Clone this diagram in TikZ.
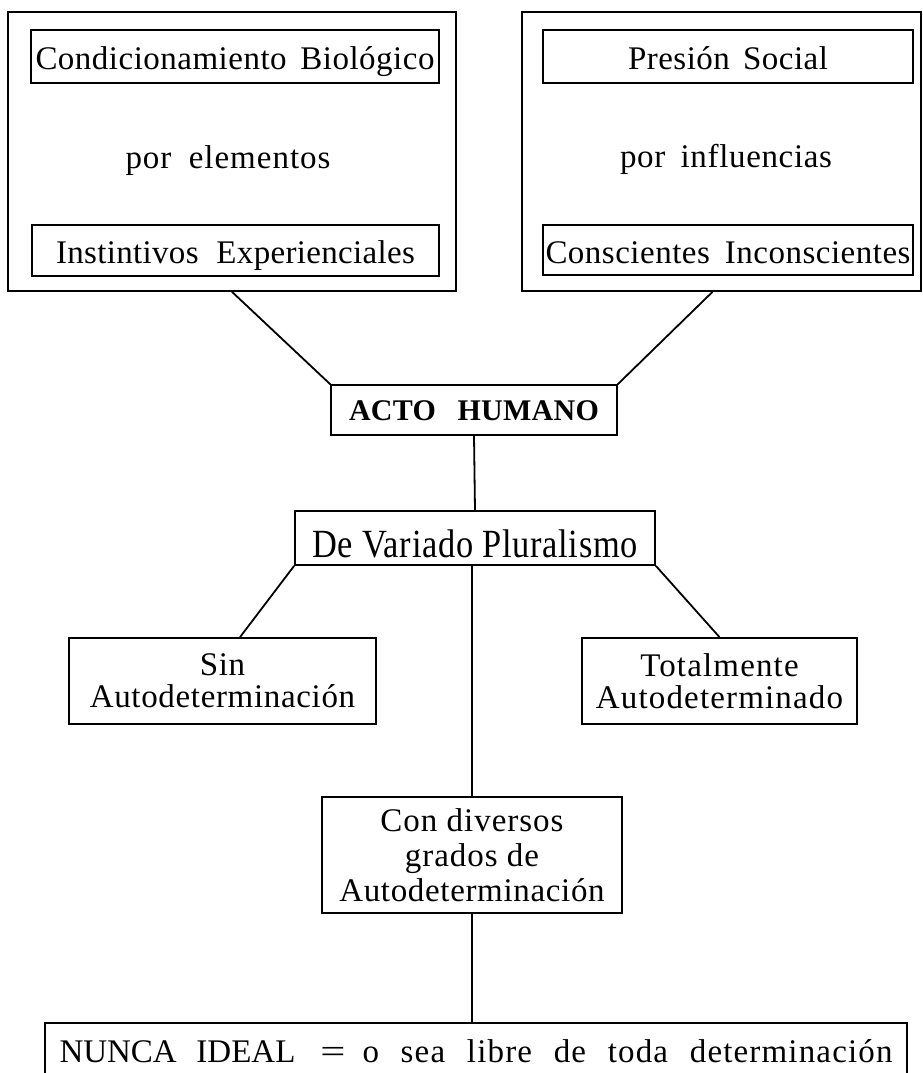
\documentclass[tikz,border=0pt]{standalone}
\usepackage{fontspec}
\setmainfont{Liberation Serif}[LetterSpace=2]
\newcommand{\spaced}[3]{{\addfontfeatures{LetterSpace=#1}\makebox[#2][s]{#3}}}
\newcommand{\lsp}[2]{{\addfontfeatures{LetterSpace=#1}#2}}
\begin{document}
\begin{tikzpicture}[x=1pt,y=-1pt,
  box/.style={draw, line width=1.7pt, rectangle, inner sep=0pt},
  txt/.style={font=\fontsize{33}{40}\selectfont},
  one/.style={txt, text height=26pt, text depth=0pt},
  conn/.style={line width=1.8pt}]
\useasboundingbox (0,0) rectangle (923,1073);
% outer boxes
\node[box, minimum width=448pt, minimum height=279pt] (outL) at (232,151.5) {};
\node[box, minimum width=399pt, minimum height=279pt] (outR) at (721.5,151.5) {};
% left group
\node[box, one, minimum width=408pt, minimum height=53pt] (cb) at (235,56.5)
  {\spaced{1.5}{399pt}{Condicionamiento Biológico}};
\node[txt, anchor=base] (pe) at (228,168) {\spaced{3}{205pt}{por elementos}};
\node[box, one, minimum width=407pt, minimum height=51pt] (ie) at (235.5,250.5)
  {\spaced{1}{359pt}{Instintivos Experienciales}\hspace{6pt}};
% right group
\node[box, one, minimum width=370pt, minimum height=53pt] (ps) at (728,56.5)
  {\spaced{1.5}{200pt}{Presión Social}};
\node[txt, anchor=base] (pi) at (726,167) {\spaced{2}{212pt}{por influencias}};
\node[box, one, minimum width=370pt, minimum height=50pt] (ci) at (728,250)
  {\spaced{1.5}{365pt}{Conscientes Inconscientes}};
% center
\node[box, font=\bfseries\fontsize{30}{34}\selectfont, text height=21pt, text depth=0pt,
  minimum width=286pt, minimum height=50pt] (acto) at (474,410)
  {\spaced{1}{250pt}{ACTO HUMANO}};
\node[box, text height=38pt, text depth=0pt, minimum width=360pt, minimum height=54pt] (dv) at (475,538)
  {\scalebox{0.86}[1]{\fontsize{40}{48}\selectfont De Variado Pluralismo}};
\node[box, txt, align=center, font=\fontsize{33}{32}\selectfont,
  minimum width=307pt, minimum height=86pt] (sin) at (222.5,681)
  {\lsp{2}{Sin}\\\lsp{2}{Autodeterminación}};
\node[box, txt, align=center, font=\fontsize{33}{32}\selectfont,
  minimum width=275pt, minimum height=86pt] (tot) at (719.5,681)
  {\lsp{3.5}{Totalmente}\\\lsp{3.5}{Autodeterminado}};
\node[box, txt, align=center, font=\fontsize{33}{35}\selectfont,
  minimum width=300pt, minimum height=116pt] (con) at (472,855)
  {\lsp{3}{Con diversos}\\\lsp{3}{grados de}\\\lsp{2}{Autodeterminación}};
\node[box, txt, text height=22pt, text depth=0pt,
  minimum width=862pt, minimum height=56pt] (nunca) at (476,1051)
  {\spaced{0}{236pt}{NUNCA IDEAL}\hspace{25pt}\makebox[25pt]{\scalebox{1.35}[1]{=}}\hspace{17pt}\spaced{3.5}{530pt}{o sea libre de toda determinación}};
% connectors
\draw[conn] (outL.south) -- (acto.north west);
\draw[conn] ([xshift=-9pt]outR.south) -- (acto.north east);
\draw[conn] (acto.south) -- (dv.north);
\draw[conn] (dv.south west) -- ([xshift=17.5pt]sin.north);
\draw[conn] (dv.south east) -- (tot.north);
\draw[conn] (dv.south -| con.north) -- (con.north);
\draw[conn] (con.south) -- (con.south |- nunca.north);
\end{tikzpicture}
\end{document}
